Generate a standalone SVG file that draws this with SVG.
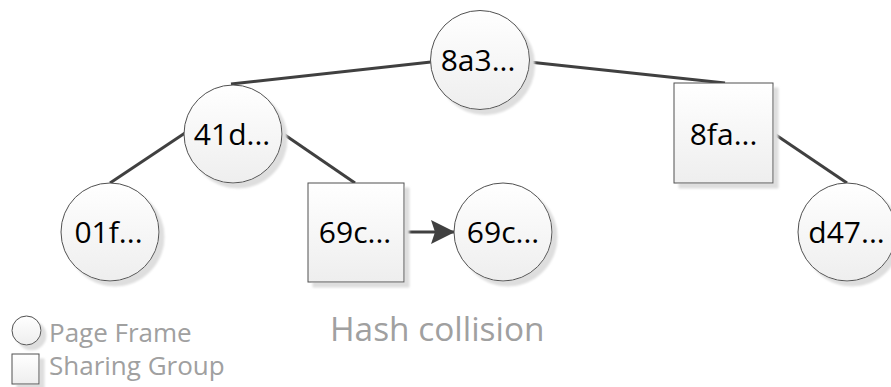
<svg xmlns="http://www.w3.org/2000/svg" width="891" height="387" viewBox="0 0 891 387">
  <defs>
    <linearGradient id="fillGrad" x1="0" y1="0" x2="0" y2="1">
      <stop offset="0" stop-color="#ffffff"/>
      <stop offset="1" stop-color="#eeeeee"/>
    </linearGradient>
    <filter id="shadow" x="-20%" y="-20%" width="150%" height="150%">
      <feDropShadow dx="5" dy="5" stdDeviation="1" flood-color="#dedede" flood-opacity="1"/>
    </filter>
    <marker id="arrow" viewBox="0 0 24 24" refX="23" refY="12" markerWidth="24" markerHeight="24" markerUnits="userSpaceOnUse" orient="auto">
      <path d="M0,0 L24,12 L0,24 L4,12 Z" fill="#404040"/>
    </marker>
  </defs>
  <style>
    .node { fill: url(#fillGrad); stroke: #505050; stroke-width: 1; filter: url(#shadow); }
    .label { font-family: "Open Sans", "Liberation Sans", sans-serif; font-size: 30px; fill: #000; text-anchor: middle; }
    .edge { stroke: #404040; stroke-width: 3; fill: none; }
    .note { font-family: "Open Sans", "Liberation Sans", sans-serif; fill: #a0a0a0; }
  </style>

  <rect width="891" height="387" fill="#ffffff"/>

  <!-- tree edges and collision arrow -->
  <g id="connectors">
    <line class="edge" x1="231" y1="84" x2="431" y2="62"/>
    <line class="edge" x1="529" y1="62" x2="725" y2="83"/>
    <line class="edge" x1="185" y1="133" x2="110" y2="183"/>
    <line class="edge" x1="282" y1="133" x2="355" y2="183"/>
    <line class="edge" x1="773" y1="133" x2="847" y2="183"/>
    <line class="edge" x1="404" y1="232" x2="454" y2="232" marker-end="url(#arrow)"/>
  </g>

  <g id="node-8a3">
    <circle class="node" cx="480" cy="60" r="49.5"/>
    <text class="label" x="478" y="71">8a3...</text>
  </g>
  <g id="node-41d">
    <circle class="node" cx="233" cy="134" r="49"/>
    <text class="label" x="232" y="145">41d...</text>
  </g>
  <g id="node-8fa">
    <rect class="node" x="674" y="83" width="99" height="100"/>
    <text class="label" x="723.5" y="145">8fa...</text>
  </g>
  <g id="node-01f">
    <circle class="node" cx="110" cy="232" r="49"/>
    <text class="label" x="108.5" y="243">01f...</text>
  </g>
  <g id="node-69c-group">
    <rect class="node" x="308" y="183" width="96" height="99"/>
    <text class="label" x="355" y="243">69c...</text>
  </g>
  <g id="node-69c-frame">
    <circle class="node" cx="503" cy="232" r="49"/>
    <text class="label" x="503" y="243">69c...</text>
  </g>
  <g id="node-d47">
    <circle class="node" cx="847" cy="232" r="49"/>
    <text class="label" x="846.5" y="243">d47...</text>
  </g>

  <text class="note" x="330" y="341" font-size="33.4">Hash collision</text>

  <!-- legend -->
  <g id="legend">
    <circle class="node" cx="26.5" cy="330.5" r="14.5"/>
    <text class="note" x="49" y="342" font-size="26">Page Frame</text>
    <rect class="node" x="12" y="354" width="27" height="30"/>
    <text class="note" x="49" y="375" font-size="26">Sharing Group</text>
  </g>
</svg>
